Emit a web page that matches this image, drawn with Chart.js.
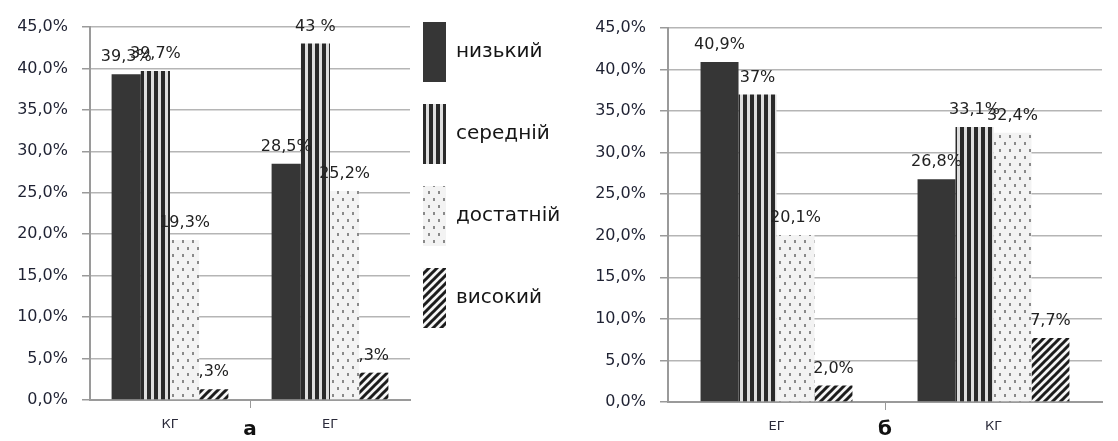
<!DOCTYPE html>
<html>
<head>
<meta charset="utf-8">
<script src="https://cdn.jsdelivr.net/npm/chart.js@4"></script>
<style>
  body { margin: 0; background: #fff; }
  .wrap { position: relative; width: 1118px; height: 441px; overflow: hidden; }
  .wrap canvas { position: absolute; top: 0; }
  #chartA { left: 0; }
  #legendBox { left: 401px; }
  #chartB { left: 582px; }
</style>
</head>
<body>
<div class="wrap">
  <canvas id="chartA" width="420" height="441"></canvas>
  <canvas id="legendBox" width="380" height="441"></canvas>
  <canvas id="chartB" width="536" height="441"></canvas>
</div>
<script>
const levels = ['низький', 'середній', 'достатній', 'високий'];

// chart "а"
const groupsA = ['КГ', 'ЕГ'];
const lowA = [39.3, 28.5];
const midA = [39.7, 43];
const suffA = [19.3, 25.2];
const highA = [1.3, 3.3];
const lowATags = ['39,3%', '28,5%'];
const midATags = ['39,7%', '43 %'];
const suffATags = ['19,3%', '25,2%'];
const highATags = [',3%', ',3%'];

// chart "б"
const groupsB = ['ЕГ', 'КГ'];
const lowB = [40.9, 26.8];
const midB = [37, 33.1];
const suffB = [20.1, 32.4];
const highB = [2.0, 7.7];
const lowBTags = ['40,9%', '26,8%'];
const midBTags = ['37%', '33,1%'];
const suffBTags = ['20,1%', '32,4%'];
const highBTags = ['2,0%', '7,7%'];

const yTicks = [0, 5, 10, 15, 20, 25, 30, 35, 40, 45];

Chart.defaults.font.family = "'DejaVu Sans', Verdana, sans-serif";
Chart.defaults.animation = false;

function makePattern(kind) {
    let c = document.createElement('canvas');
    let g = c.getContext('2d');
    if (kind === 'stripes') {
        c.width = 7; c.height = 7;
        g.fillStyle = '#dedede';
        g.fillRect(0, 0, 7, 7);
        g.fillStyle = '#2a2a2a';
        g.fillRect(0, 0, 4, 7);
    } else if (kind === 'dots') {
        c.width = 10; c.height = 14;
        g.fillStyle = '#f3f3f3';
        g.fillRect(0, 0, 10, 14);
        g.fillStyle = '#8a8a8a';
        g.fillRect(2, 2, 2, 3);
        g.fillRect(7, 9, 2, 3);
    } else {
        c.width = 8; c.height = 8;
        g.fillStyle = '#f5f5f5';
        g.fillRect(0, 0, 8, 8);
        g.strokeStyle = '#1c1c1c';
        g.lineWidth = 3;
        g.beginPath();
        g.moveTo(-4, 4); g.lineTo(4, -4);
        g.moveTo(0, 8); g.lineTo(8, 0);
        g.moveTo(4, 12); g.lineTo(12, 4);
        g.stroke();
    }
    return g.createPattern(c, 'repeat');
}

const fills = ['#363636', makePattern('stripes'), makePattern('dots'), makePattern('diag')];

function makeDatasets(series, tags) {
    return series.map((values, i) => ({
        label: levels[i],
        data: values,
        tags: tags[i],
        backgroundColor: fills[i],
        borderWidth: 0
    }));
}

// value labels above each bar
const barTags = {
    id: 'barTags',
    afterDatasetsDraw(chart) {
        let ctx = chart.ctx;
        ctx.save();
        ctx.font = "16px 'DejaVu Sans'";
        ctx.fillStyle = '#222';
        ctx.textAlign = 'center';
        ctx.textBaseline = 'middle';
        chart.data.datasets.forEach((ds, i) => {
            chart.getDatasetMeta(i).data.forEach((bar, j) => {
                ctx.fillText(ds.tags[j], bar.x, bar.y - 17);
            });
        });
        ctx.restore();
    }
};

function makeChart(id, groups, datasets, opts) {
    return new Chart(document.getElementById(id), {
        type: 'bar',
        data: { labels: groups, datasets: datasets },
        options: {
            responsive: false,
            layout: { padding: opts.padding },
            datasets: { bar: { categoryPercentage: opts.catPct, barPercentage: 1 } },
            plugins: { legend: { display: false }, tooltip: { enabled: false } },
            scales: {
                x: {
                    afterFit: s => { s.height = opts.xHeight; },
                    border: { color: '#9a9a9a', width: 2 },
                    grid: {
                        drawOnChartArea: false,
                        tickLength: 8,
                        color: c => c.index === 1 ? '#9a9a9a' : 'rgba(0,0,0,0)'
                    },
                    ticks: { padding: 9, color: '#2a2a3a', font: { size: 13 } },
                    title: {
                        display: true,
                        text: opts.title,
                        color: '#111',
                        font: { size: 20, weight: 'bold', lineHeight: 1.1 },
                        padding: 0
                    }
                },
                y: {
                    min: 0,
                    max: 45,
                    afterFit: s => { s.width = 74; },
                    afterBuildTicks: s => { s.ticks = yTicks.map(v => ({ value: v })); },
                    border: { color: '#9a9a9a', width: 2 },
                    grid: { color: '#b5b5b5', lineWidth: 1.5, tickLength: 8, tickColor: '#9a9a9a' },
                    ticks: {
                        padding: 14,
                        color: '#1f2233',
                        font: { size: 16 },
                        callback: v => v.toFixed(1).replace('.', ',') + '%'
                    }
                }
            }
        },
        plugins: [barTags]
    });
}

makeChart('chartA', groupsA,
    makeDatasets([lowA, midA, suffA, highA], [lowATags, midATags, suffATags, highATags]),
    { padding: { left: 16, right: 10, top: 27, bottom: 0 }, catPct: 0.73, xHeight: 41, title: 'а' });

makeChart('chartB', groupsB,
    makeDatasets([lowB, midB, suffB, highB], [lowBTags, midBTags, suffBTags, highBTags]),
    { padding: { left: 12, right: 16, top: 28, bottom: 0 }, catPct: 0.70, xHeight: 39, title: 'б' });

// shared legend between the two charts
new Chart(document.getElementById('legendBox'), {
    type: 'bar',
    data: { labels: [], datasets: levels.map((name, i) => ({ label: name, data: [], backgroundColor: fills[i], borderWidth: 0 })) },
    options: {
        responsive: false,
        layout: { padding: 0 },
        scales: { x: { display: false }, y: { display: false } },
        plugins: {
            tooltip: { enabled: false },
            legend: {
                position: 'left',
                align: 'start',
                labels: {
                    boxWidth: 23,
                    boxHeight: 60,
                    padding: 22,
                    color: '#151515',
                    font: { size: 20 }
                }
            }
        }
    }
});
</script>
</body>
</html>
